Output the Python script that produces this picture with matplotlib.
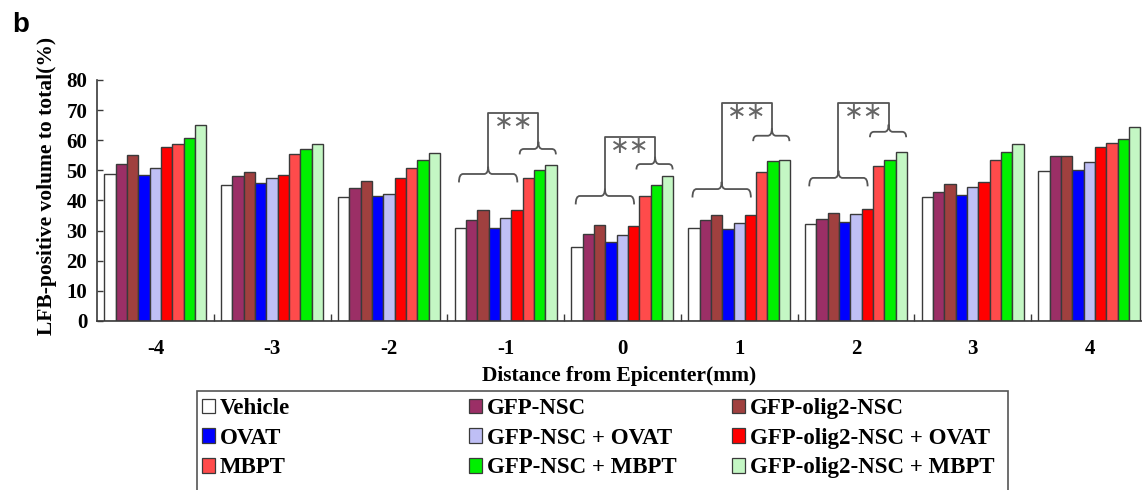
import matplotlib
matplotlib.use("Agg")
import matplotlib.pyplot as plt
import numpy as np
from matplotlib.path import Path
from matplotlib.patches import PathPatch, Rectangle, Patch

# ---------------- data ----------------
distances = [-4, -3, -2, -1, 0, 1, 2, 3, 4]
tick_labels = ["-4", "-3", "-2", "-1", "0", "1", "2", "3", "4"]

series_names = ["Vehicle", "GFP-NSC", "GFP-olig2-NSC",
                "OVAT", "GFP-NSC + OVAT", "GFP-olig2-NSC + OVAT",
                "MBPT", "GFP-NSC + MBPT", "GFP-olig2-NSC + MBPT"]

vehicle    = [48.7, 45.0, 41.0, 30.8, 24.6, 30.8, 32.3, 41.0, 49.8]
gfp_nsc    = [52.0, 48.0, 44.0, 33.4, 28.8, 33.5, 34.0, 42.9, 54.9]
gfp_olig2  = [55.0, 49.5, 46.5, 37.0, 31.9, 35.1, 36.0, 45.4, 54.9]
ovat       = [48.3, 45.8, 41.5, 31.0, 26.2, 30.7, 32.8, 41.9, 50.0]
nsc_ovat   = [50.7, 47.4, 42.2, 34.3, 28.6, 32.4, 35.4, 44.5, 52.9]
olig2_ovat = [57.6, 48.6, 47.6, 36.8, 31.4, 35.2, 37.2, 46.0, 57.6]
mbpt       = [58.7, 55.6, 50.9, 47.4, 41.5, 49.3, 51.5, 53.4, 59.1]
nsc_mbpt   = [60.9, 57.2, 53.5, 50.0, 45.2, 53.2, 53.4, 56.1, 60.5]
olig2_mbpt = [65.0, 58.9, 55.7, 51.7, 48.2, 53.5, 56.1, 58.9, 64.5]

series_values = [vehicle, gfp_nsc, gfp_olig2, ovat, nsc_ovat, olig2_ovat,
                 mbpt, nsc_mbpt, olig2_mbpt]

# significance annotations (groups -1, 0, 1, 2)
sig_groups   = [-1, 0, 1, 2]
left_brace_y = [48.8, 41.5, 43.8, 47.5]
right_brace_y = [57.1, 52.1, 61.5, 62.8]
bracket_top  = [69.1, 61.1, 72.4, 72.4]
sig_text = "\u2217\u2217"

# ---------------- style ----------------
colors = ["#FFFFFF", "#9B2F66", "#A0403F",
          "#0000FF", "#BFBFF5", "#FF0000",
          "#FF4B4B", "#00F000", "#C4F7C4"]
edge = "#3A3A3A"
line_col = "#555555"
serif = ["Liberation Serif", "DejaVu Serif"]

W, H = 1142, 490
fig = plt.figure(figsize=(W / 100, H / 100), dpi=100)
ax = fig.add_axes([97 / W, 1 - 321 / H, 1 - 97 / W, (321 - 80) / H])

bw = 0.097
x = np.array(distances, dtype=float)
for i, (vals, c) in enumerate(zip(series_values, colors)):
    ax.bar(x + (i - 4) * bw, vals, width=bw, color=c, edgecolor=edge,
           linewidth=1.0, zorder=2)

ax.set_xlim(-4.5, 4.45)
ax.set_ylim(0, 80)
ax.set_yticks(range(0, 81, 10))
ax.set_xticks(distances)
ax.set_xticklabels(tick_labels)
ax.set_xticks(np.arange(-3.5, 4.0, 1.0), minor=True)
ax.tick_params(axis="x", which="major", length=0, pad=13)
ax.tick_params(axis="x", which="minor", direction="in", length=5,
               width=1.0, color=edge)
ax.tick_params(axis="y", direction="in", length=4, width=1.0, color=edge, pad=7)
for lab in ax.get_xticklabels() + ax.get_yticklabels():
    lab.set_fontfamily(serif)
    lab.set_fontweight("bold")
for lab in ax.get_xticklabels():
    lab.set_fontsize(15)
for lab in ax.get_yticklabels():
    lab.set_fontsize(15)
for s in ["top", "right"]:
    ax.spines[s].set_visible(False)
for s in ["left", "bottom"]:
    ax.spines[s].set_color(edge)
    ax.spines[s].set_linewidth(1.2)

ax.set_xlabel("Distance from Epicenter(mm)", fontfamily=serif,
              fontweight="bold", fontsize=15.5, labelpad=5)
fig.text(47 / W, 1 - 186 / H, "LFB-positive volume to total(%)",
         rotation=90, ha="center", va="center", fontfamily=serif,
         fontweight="bold", fontsize=15.5)

# ---------------- braces / brackets ----------------
def brace(x0, x1, xm, y, depth, rise, w=0.035):
    verts = [(x0, y - depth), (x0, y), (x0 + w, y),
             (xm - w, y), (xm, y), (xm, y + rise),
             (xm, y), (xm + w, y),
             (x1 - w, y), (x1, y), (x1, y - depth)]
    codes = [Path.MOVETO, Path.CURVE3, Path.CURVE3,
             Path.LINETO, Path.CURVE3, Path.CURVE3,
             Path.CURVE3, Path.CURVE3,
             Path.LINETO, Path.CURVE3, Path.CURVE3]
    ax.add_patch(PathPatch(Path(verts, codes), fill=False, edgecolor=line_col,
                           linewidth=1.3, zorder=3))

for g, yl, yr, yt in zip(sig_groups, left_brace_y, right_brace_y, bracket_top):
    lm, rm = g - 0.15, g + 0.28
    rise = 2.4
    brace(g - 0.40, g + 0.10, lm, yl, 2.8, rise)
    brace(g + 0.12, g + 0.43, rm, yr, 1.8, rise)
    ax.plot([lm, lm, rm, rm], [yl + rise, yt, yt, yr + rise],
            color=line_col, linewidth=1.3, zorder=3)
    ax.text((lm + rm) / 2, yt - 3.0, sig_text, ha="center", va="center",
            fontsize=17, color="#666666",
            fontfamily=["DejaVu Sans"])

# ---------------- legend ----------------
fig.patches.append(Rectangle((197 / W, -0.05), (1008 - 197) / W,
                             0.05 + 1 - 391 / H, transform=fig.transFigure,
                             fill=False, edgecolor="#555555", linewidth=1.2))
col_x = [202, 469, 732]
for col in range(3):
    handles = []
    for row in range(3):
        idx = row * 3 + col
        handles.append(Patch(facecolor=colors[idx], edgecolor=edge,
                             linewidth=0.9, label=series_names[idx]))
    leg = fig.legend(handles=handles, loc="upper left",
                     bbox_to_anchor=(col_x[col] / W, 1 - 398 / H),
                     frameon=False, borderpad=0, borderaxespad=0,
                     handlelength=0.55, handleheight=0.6, handletextpad=0.22,
                     labelspacing=0.38,
                     prop={"family": serif, "weight": "bold", "size": 16.5})

fig.text(12 / W, 1 - 25 / H, "b", ha="left", va="center",
         fontfamily=["Liberation Sans", "DejaVu Sans"], fontweight="bold",
         fontsize=20)

fig.savefig("out.png", dpi=100)
